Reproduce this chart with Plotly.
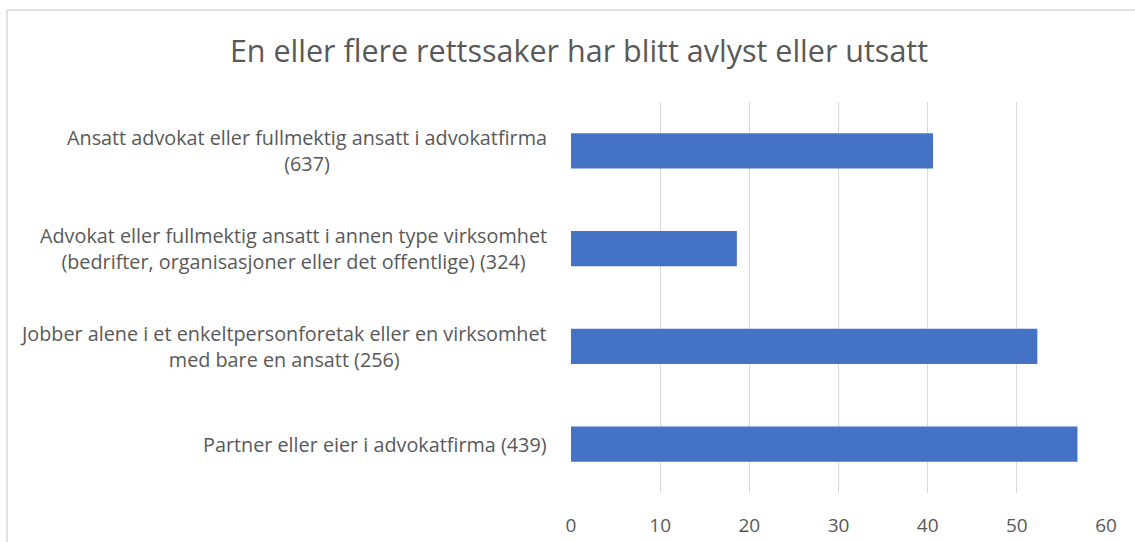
import plotly.graph_objects as go

title = "En eller flere rettssaker har blitt avlyst eller utsatt"
categories = [
    "Ansatt advokat eller fullmektig ansatt i advokatfirma<br>(637)",
    "Advokat eller fullmektig ansatt i annen type virksomhet<br>(bedrifter, organisasjoner eller det offentlige) (324)",
    "Jobber alene i et enkeltpersonforetak eller en virksomhet<br>med bare en ansatt (256)",
    "Partner eller eier i advokatfirma (439)",
]
values = [40.6, 18.6, 52.3, 56.8]
x_ticks = [0, 10, 20, 30, 40, 50, 60]

FONT = "Open Sans"
GRAY = "#595959"
W, H = 1135, 542
L, R, T, B = 571, 1135 - 1106, 102, 542 - 493

fig = go.Figure(go.Bar(
    x=values, y=categories, orientation="h",
    marker=dict(color="#4472C4", line=dict(width=0)),
    hoverinfo="x+y",
))

pw = W - L - R
ph = H - T - B

def px_to_paper_x(px):
    return (px - L) / pw

def px_to_paper_y(py):
    return (H - B - py) / ph

fig.update_layout(
    width=W, height=H,
    margin=dict(l=L, r=R, t=T, b=B, pad=0),
    paper_bgcolor="white", plot_bgcolor="white",
    bargap=0.64,
    showlegend=False,
    title=dict(text=title, x=px_to_paper_x(579), xref="paper", xanchor="center",
               y=(H - 51) / H, yanchor="middle",
               font=dict(family=FONT, size=30.5, color=GRAY)),
    xaxis=dict(range=[0, 60], tickvals=x_ticks, showgrid=True, gridcolor="#d9d9d9",
               gridwidth=1, zeroline=False, showline=False, ticks="", automargin=False,
               tickfont=dict(family=FONT, size=19, color=GRAY), ticklabelstandoff=19),
    yaxis=dict(categoryorder="array", categoryarray=categories, autorange="reversed",
               showticklabels=False, showgrid=False, zeroline=False, showline=False,
               ticks="", automargin=False),
    shapes=[dict(type="rect", xref="paper", yref="paper",
                 x0=px_to_paper_x(7), x1=px_to_paper_x(1160),
                 y0=px_to_paper_y(570), y1=px_to_paper_y(10),
                 line=dict(color="#d9d9d9", width=1.5), fillcolor="rgba(0,0,0,0)", layer="below")],
    annotations=[dict(text=c, x=0, xref="paper", y=c, yref="y", xanchor="right",
                      xshift=-22, align="center", showarrow=False,
                      font=dict(family=FONT, size=19.8, color=GRAY)) for c in categories],
)

fig.write_html("out.html", config={"displayModeBar": False},
               post_script="document.body.style.margin='0';document.body.style.overflow='hidden';")
